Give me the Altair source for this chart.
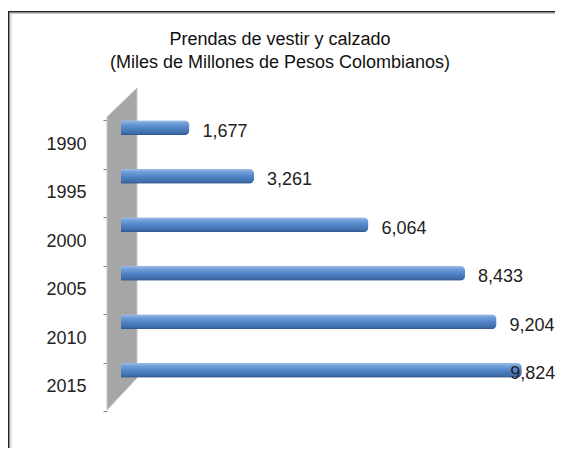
import altair as alt
import pandas as pd

years = ["1990", "1995", "2000", "2005", "2010", "2015"]
values = [1677, 3261, 6064, 8433, 9204, 9824]
title_lines = ["Prendas de vestir y calzado", "(Miles de Millones de Pesos Colombianos)"]

df = pd.DataFrame({"year": years, "value": values})
one = pd.DataFrame({"k": [0]})

W, H = 547, 440
FONT = "Liberation Sans"
FS = 18

y_scale = alt.Scale(domain=years, range=[112, 403], paddingInner=0, paddingOuter=0)
x_scale = alt.Scale(domain=[0, 10000], range=[113, 521])

y_axis = alt.Axis(
    title=None, domain=False, grid=False, ticks=True, tickSize=4,
    tickColor="#7f7f7f", tickWidth=1, tickBand="extent",
    labelPadding=17, labelFont=FONT, labelFontSize=FS, labelColor="#222222",
    offset=-99,
)


def frame_piece(x, x2, y, y2, color):
    return alt.Chart(one).mark_rect(color=color, strokeWidth=0).encode(
        x=alt.value(x), x2=alt.value(x2), y=alt.value(y), y2=alt.value(y2)
    )


frame_top = frame_piece(0, W, 3, 4.5, "#222222")
frame_top_in = frame_piece(2, W, 5, 6, "#c4c4c4")
frame_left = frame_piece(0, 1.5, 3, H, "#222222")
frame_left_in = frame_piece(2.5, 3.5, 5, H, "#c4c4c4")

wall = alt.Chart(one).mark_point(
    shape="M-0.0932,-0.8199L0.0932,-1L0.0932,0.8012L-0.0932,1Z",
    filled=True, fill="#a6a6a6", stroke="#c8c8c8", strokeWidth=1, opacity=1,
    size=103684,
).encode(x=alt.value(114), y=alt.value(241))

grad = alt.Gradient(
    gradient="linear",
    stops=[
        alt.GradientStop(color="#a2c1ea", offset=0),
        alt.GradientStop(color="#73a0da", offset=0.2),
        alt.GradientStop(color="#5286c8", offset=0.5),
        alt.GradientStop(color="#3f6eab", offset=0.85),
        alt.GradientStop(color="#2e5386", offset=1),
    ],
    x1=0, x2=0, y1=0, y2=1,
)

bars = alt.Chart(df).mark_bar(size=15, cornerRadiusEnd=5, color=grad, yOffset=-16.5).encode(
    y=alt.Y("year:N", scale=y_scale, sort=years, axis=y_axis),
    x=alt.X("value:Q", scale=x_scale, axis=None),
)

labels = alt.Chart(df).transform_calculate(
    lx="min(datum.value, 9220)"
).mark_text(
    align="left", baseline="middle", dx=13, dy=-12.5, font=FONT, fontSize=FS, color="#222222"
).encode(
    y=alt.Y("year:N", scale=y_scale, sort=years, axis=y_axis),
    x=alt.X("lx:Q", scale=x_scale, axis=None),
    text=alt.Text("value:Q", format=","),
)

title = alt.Chart(one).mark_text(
    align="center", baseline="middle", font=FONT, fontSize=FS, color="#111111", lineHeight=23
).encode(
    x=alt.value(272), y=alt.value(32), text=alt.value(title_lines)
)

chart = alt.layer(
    frame_top, frame_top_in, frame_left, frame_left_in, wall, bars, labels, title
).properties(
    width=W, height=H, autosize=alt.AutoSizeParams(type="none"), padding=0
).configure_view(stroke=None)

chart.save("out.html", embed_options={"renderer": "svg", "actions": False})
